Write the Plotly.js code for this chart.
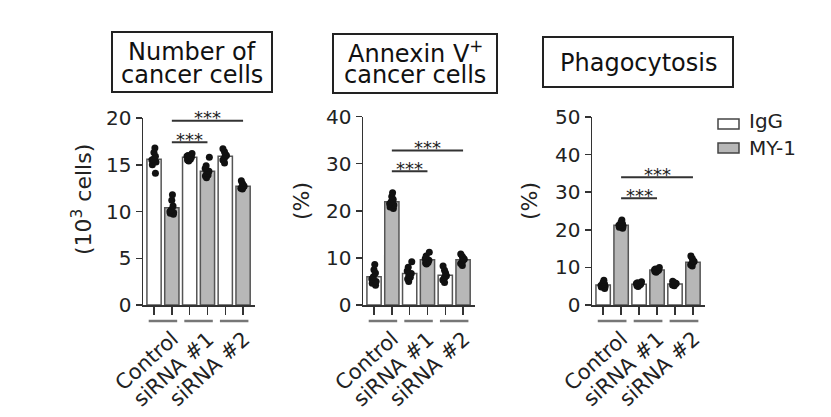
<!DOCTYPE html>
<html><head><meta charset="utf-8">
<script src="https://cdn.plot.ly/plotly-3.0.1.min.js"></script>
<style>
html,body{margin:0;padding:0;background:#fff;overflow:hidden;}
#chart{width:831px;height:417px;}
</style></head><body><div id="chart"></div>
<script>
// ---------- data ----------
const groups = ['Control', 'siRNA #1', 'siRNA #2'];
const seriesNames = ['IgG', 'MY-1'];

// Number of cancer cells (10^3 cells)
const cellsIgG = [15.6, 15.8, 15.9];
const cellsMY1 = [10.4, 14.3, 12.7];
const cellsIgGPts = [[16.8,16.3,15.9,15.6,15.3,15.0,15.5,14.1],[16.2,16.0,15.8,15.7,15.6,15.5,15.9,15.4],[16.7,16.4,16.1,15.9,15.7,15.5,15.2,16.0]];
const cellsMY1Pts = [[11.8,11.2,10.6,10.2,9.9,9.7,10.0,9.8],[15.8,14.9,14.6,14.3,14.1,13.8,13.6,13.9],[13.3,13.0,12.8,12.6,12.5,12.4,12.7,12.5]];

// Annexin V+ cancer cells (%)
const annexIgG = [6.0, 6.7, 6.3];
const annexMY1 = [21.9, 9.6, 9.6];
const annexIgGPts = [[8.6,7.5,6.8,6.0,5.5,5.0,4.6,4.2],[9.2,8.0,7.2,6.7,6.3,5.9,5.5,5.0],[8.3,7.4,6.8,6.2,5.8,5.3,4.8,6.0]];
const annexMY1Pts = [[23.8,23.0,22.4,21.9,21.5,21.2,20.8,20.5],[11.2,10.4,9.8,9.3,9.0,8.7,8.9,9.5],[10.8,10.3,9.9,9.5,9.1,8.8,8.4,9.7]];

// Phagocytosis (%)
const phagoIgG = [5.3, 5.5, 5.6];
const phagoMY1 = [21.2, 9.3, 11.4];
const phagoIgGPts = [[6.6,6.0,5.6,5.2,4.8,4.4,5.0,5.4],[6.2,5.9,5.7,5.5,5.3,5.1,4.9,5.6],[6.3,6.0,5.7,5.5,5.3,5.1,5.8,5.6]];
const phagoMY1Pts = [[22.6,22.0,21.6,21.3,21.0,20.7,20.4,21.2],[10.0,9.6,9.3,9.1,8.9,8.7,9.4,9.2],[13.0,12.4,11.8,11.4,11.0,10.7,10.4,11.6]];

// significance brackets between MY-1 groups: [fromGroup, toGroup, height, label]
const cellsSig = [[0, 1, 17.4, '***'], [0, 2, 19.7, '***']];
const annexSig = [[0, 1, 28.4, '***'], [0, 2, 32.8, '***']];
const phagoSig = [[0, 1, 28.4, '***'], [0, 2, 34.0, '***']];

const cellsTicks = [0, 5, 10, 15, 20];
const annexTicks = [0, 10, 20, 30, 40];
const phagoTicks = [0, 10, 20, 30, 40, 50];

const panelTitles = [['Number of', 'cancer cells'], ['Annexin V<sup>+</sup>', 'cancer cells'], ['Phagocytosis']];
const yTitles = ['(10<sup>3</sup> cells)', '(%)', '(%)'];

// ---------- layout helpers ----------
const W = 831, H = 417;
const FONT = 'DejaVu Sans, Liberation Sans, Arial, sans-serif';
const px = x => x / W;
const py = y => 1 - y / H;

const panels = [
  {igg: cellsIgG, my1: cellsMY1, iggPts: cellsIgGPts, my1Pts: cellsMY1Pts, sig: cellsSig, ticks: cellsTicks,
   xd: [143, 255], yTop: 118, box: [112, 272, 32, 92], ytPos: [82, 200]},
  {igg: annexIgG, my1: annexMY1, iggPts: annexIgGPts, my1Pts: annexMY1Pts, sig: annexSig, ticks: annexTicks,
   xd: [363, 475], yTop: 116.5, box: [333, 497, 34, 93], ytPos: [301, 201]},
  {igg: phagoIgG, my1: phagoMY1, iggPts: phagoIgGPts, my1Pts: phagoMY1Pts, sig: phagoSig, ticks: phagoTicks,
   xd: [592, 705], yTop: 117, box: [543, 733, 37, 87], ytPos: [529, 201]}
];

const iggColor = '#ffffff', my1Color = '#b7b7b7', edge = '#555555', ink = '#222222';
const data = [], shapes = [], annotations = [];
const layout = {
  width: W, height: H, margin: {l: 0, r: 0, t: 0, b: 0},
  paper_bgcolor: '#fff', plot_bgcolor: 'rgba(0,0,0,0)',
  showlegend: false, barmode: 'overlay', boxmode: 'overlay',
  font: {family: FONT, color: ink}
};

panels.forEach((p, k) => {
  const n = k === 0 ? '' : String(k + 1);
  const xa = 'x' + n, ya = 'y' + n;
  const posIgG = groups.map((g, i) => 2 * i);
  const posMY1 = groups.map((g, i) => 2 * i + 1);

  data.push({type: 'bar', x: posIgG, y: p.igg, xaxis: xa, yaxis: ya, width: 0.8, name: seriesNames[0],
    marker: {color: iggColor, line: {color: edge, width: 1.5}}, hoverinfo: 'skip'});
  data.push({type: 'bar', x: posMY1, y: p.my1, xaxis: xa, yaxis: ya, width: 0.8, name: seriesNames[1],
    marker: {color: my1Color, line: {color: edge, width: 1.5}}, hoverinfo: 'skip'});

  [[p.iggPts, posIgG], [p.my1Pts, posMY1]].forEach(([pts, pos]) => {
    const x = [], y = [];
    pts.forEach((arr, i) => arr.forEach(v => { x.push(pos[i]); y.push(v); }));
    data.push({type: 'box', x: x, y: y, xaxis: xa, yaxis: ya, boxpoints: 'all', jitter: 0.55, pointpos: 0,
      width: 0.6, fillcolor: 'rgba(0,0,0,0)', line: {width: 0, color: 'rgba(0,0,0,0)'},
      marker: {color: '#111', size: 7}, hoverinfo: 'skip', showlegend: false});
  });

  const ymax = p.ticks[p.ticks.length - 1];
  layout['xaxis' + n] = {domain: [px(p.xd[0]), px(p.xd[1])], range: [-0.62, 5.67], anchor: ya,
    showline: true, linecolor: '#333', linewidth: 1.5, ticks: 'outside', ticklen: 8, tickwidth: 1.5, tickcolor: '#333',
    tickvals: [0, 1, 2, 3, 4, 5], showticklabels: false, showgrid: false, zeroline: false, fixedrange: true};
  layout['yaxis' + n] = {domain: [py(305), py(p.yTop)], range: [0, ymax], anchor: xa,
    showline: true, linecolor: '#333', linewidth: 1.5, ticks: 'outside', ticklen: 6, tickwidth: 1.5, tickcolor: '#333',
    tickvals: p.ticks, ticktext: p.ticks.map(String), tickfont: {family: FONT, size: 20, color: ink},
    showgrid: false, zeroline: false, fixedrange: true};

  // group underlines and labels
  groups.forEach((g, i) => {
    shapes.push({type: 'line', xref: xa, yref: 'paper', x0: 2 * i - 0.3, x1: 2 * i + 1.3, y0: py(321), y1: py(321),
      line: {color: '#777', width: 2.5}});
    annotations.push({xref: xa, yref: 'paper', x: 2 * i + 0.5, y: py(324), text: g, showarrow: false,
      textangle: -42, xanchor: 'right', yanchor: 'top', xshift: 23, font: {family: FONT, size: 21, color: ink}});
  });

  // significance brackets
  p.sig.forEach(([a, b, h, lab]) => {
    shapes.push({type: 'line', xref: xa, yref: ya, x0: 2 * a + 1, x1: 2 * b + 1, y0: h, y1: h,
      line: {color: '#333', width: 2}});
    annotations.push({xref: xa, yref: ya, x: (2 * a + 1 + 2 * b + 1) / 2, y: h, text: lab, showarrow: false,
      xanchor: 'center', yanchor: 'middle', yshift: 3, font: {family: FONT, size: 18, color: ink}});
  });

  // boxed panel title
  const [bx0, bx1, by0, by1] = p.box;
  shapes.push({type: 'rect', xref: 'paper', yref: 'paper', x0: px(bx0), x1: px(bx1), y0: py(by1), y1: py(by0),
    line: {color: '#222', width: 2}, fillcolor: 'rgba(0,0,0,0)'});
  const lines = panelTitles[k];
  const cx = px((bx0 + bx1) / 2);
  const lineY = lines.length === 2 ? [51.5, 75] : [63.3];
  lines.forEach((t, j) => annotations.push({xref: 'paper', yref: 'paper', x: cx, y: py(lineY[j]), text: t,
    showarrow: false, xanchor: 'center', yanchor: 'middle', font: {family: FONT, size: 24, color: '#111'}}));

  // y-axis title
  annotations.push({xref: 'paper', yref: 'paper', x: px(p.ytPos[0]), y: py(p.ytPos[1]), text: yTitles[k],
    showarrow: false, textangle: -90, xanchor: 'center', yanchor: 'middle', font: {family: FONT, size: 22, color: ink}});
});

// legend keys
[[seriesNames[0], iggColor, 119, 129, 121], [seriesNames[1], my1Color, 143, 153, 147.5]].forEach(([name, col, y0, y1, ty]) => {
  shapes.push({type: 'rect', xref: 'paper', yref: 'paper', x0: px(718), x1: px(739), y0: py(y1), y1: py(y0),
    line: {color: '#444', width: 1.5}, fillcolor: col});
  annotations.push({xref: 'paper', yref: 'paper', x: px(747), y: py(ty), text: name, showarrow: false,
    xanchor: 'left', yanchor: 'middle', font: {family: FONT, size: 20, color: ink}});
});

layout.shapes = shapes;
layout.annotations = annotations;
Plotly.newPlot('chart', data, layout, {staticPlot: true, displayModeBar: false});
</script></body></html>
